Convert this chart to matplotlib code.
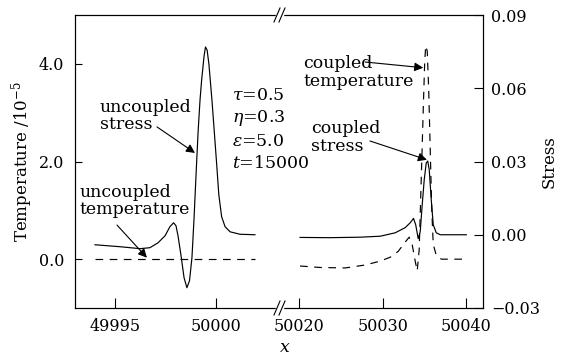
import matplotlib
matplotlib.use('Agg')
import matplotlib.pyplot as plt
from matplotlib.lines import Line2D

plt.rcParams['font.family'] = ['DejaVu Serif']
plt.rcParams['mathtext.fontset'] = 'dejavuserif'
plt.rcParams['font.size'] = 11.5

# Step 1: data
# left part of the broken x axis (uncoupled case)
x_uncoupled = [49993.99, 49995.23, 49996.22, 49996.71, 49997.11, 49997.46, 49997.70,
               49997.88, 49998.00, 49998.10, 49998.25, 49998.40, 49998.54, 49998.67,
               49998.79, 49998.89, 49999.02, 49999.10, 49999.19, 49999.27, 49999.39,
               49999.46, 49999.54, 49999.63, 49999.78, 50000.01, 50000.12, 50000.26,
               50000.43, 50000.68, 50001.17, 50001.91]
stress_uncoupled = [-0.0041, -0.0049, -0.0057, -0.0053, -0.0033, -0.0004, 0.0033,
                    0.0049, 0.0037, -0.0004, -0.0086, -0.0176, -0.0217, -0.0188,
                    -0.0094, 0.0061, 0.0294, 0.0429, 0.0552, 0.0634, 0.0732,
                    0.0769, 0.0757, 0.0699, 0.0552, 0.0294, 0.0164, 0.0074,
                    0.0033, 0.0012, 0.0002, 0.0]
x_temp_uncoupled = [49993.99, 50001.91]
temp_uncoupled = [0.0, 0.0]

# right part of the broken x axis (coupled case)
x_stress_coupled = [50020.12, 50023.71, 50027.31, 50029.70, 50031.50, 50032.69, 50033.29,
                    50033.69, 50033.95, 50034.25, 50034.49, 50034.73, 50034.97, 50035.21,
                    50035.39, 50035.57, 50035.81, 50036.05, 50036.41, 50036.89, 50040.0]
stress_coupled = [-0.0011, -0.0012, -0.0010, -0.0006, 0.0008, 0.0029, 0.0049,
                  0.0067, 0.0041, -0.0016, 0.0012, 0.0123, 0.0225, 0.0294,
                  0.0302, 0.0266, 0.0143, 0.0041, 0.0008, 0.0, 0.0]
x_temp_coupled = [50020.12, 50022.51, 50025.51, 50027.90, 50029.70, 50030.90, 50031.86,
                  50032.69, 50033.17, 50033.53, 50033.89, 50034.13, 50034.37, 50034.61,
                  50034.85, 50035.03, 50035.15, 50035.33, 50035.51, 50035.69, 50035.87,
                  50036.05, 50036.41, 50037.01, 50040.0]
temp_coupled = [-0.14, -0.17, -0.18, -0.12, -0.04, 0.04, 0.16,
                0.35, 0.45, 0.30, -0.04, -0.24, 0.20, 1.62,
                3.05, 4.06, 4.37, 4.26, 3.45, 2.23, 1.02,
                0.30, 0.08, 0.0, 0.0]

left_xticks = [49995, 50000]
right_xticks = [50020, 50030, 50040]
temp_ticks = [0.0, 2.0, 4.0]
temp_ticklabels = ['0.0', '2.0', '4.0']
stress_ticks = [-0.03, 0.0, 0.03, 0.06, 0.09]
stress_ticklabels = ['\u22120.03', '0.00', '0.03', '0.06', '0.09']
params = [r'$\tau$=0.5', r'$\eta$=0.3', r'$\varepsilon$=5.0', r'$t$=15000']

# Step 2: figure with two panels side by side (broken x axis)
W, H = 570, 356
fig = plt.figure(figsize=(5.7, 3.56), dpi=100)
x0, xb, x1 = 75, 279, 483
y_top, y_bot = 15, 308
axw = (xb - x0) / W
axh = (y_bot - y_top) / H
ax1 = fig.add_axes([x0 / W, 1 - y_bot / H, axw, axh])
ax2 = fig.add_axes([xb / W, 1 - y_bot / H, (x1 - xb) / W, axh])
ax2.patch.set_visible(False)
ax1s = ax1.twinx()
ax2s = ax2.twinx()

lw = 0.85
dash = (0, (6.5, 5.5))

ax1.plot(x_temp_uncoupled, temp_uncoupled, color='black', lw=lw, linestyle=dash)
ax1s.plot(x_uncoupled, stress_uncoupled, color='black', lw=lw)
ax2.plot(x_temp_coupled, temp_coupled, color='black', lw=lw, linestyle=dash)
ax2s.plot(x_stress_coupled, stress_coupled, color='black', lw=lw)

ax1.set_xlim(49993.0, 50003.1)
ax2.set_xlim(50017.6, 50042.0)
for a in (ax1, ax2):
    a.set_ylim(-1.0, 5.0)
for a in (ax1s, ax2s):
    a.set_ylim(-0.03, 0.09)

# Step 3: ticks and spines
ax1.set_xticks(left_xticks)
ax1.set_xticklabels([str(v) for v in left_xticks])
ax2.set_xticks(right_xticks)
ax2.set_xticklabels([str(v) for v in right_xticks])
for a in (ax1, ax2):
    a.tick_params(axis='x', direction='in', length=7, width=0.8, pad=7, top=False)
ax1.set_yticks(temp_ticks)
ax1.set_yticklabels(temp_ticklabels)
ax1.tick_params(axis='y', direction='in', length=5, width=0.8, pad=8, right=False)
ax2.tick_params(axis='y', left=False, right=False, labelleft=False)
ax1s.tick_params(axis='y', right=False, labelright=False)
ax2s.set_yticks(stress_ticks)
ax2s.set_yticklabels(stress_ticklabels)
ax2s.tick_params(axis='y', direction='in', length=6.5, width=0.8, pad=6)

for a in (ax1, ax1s):
    a.spines['right'].set_visible(False)
for a in (ax2, ax2s):
    a.spines['left'].set_visible(False)
for a in (ax1, ax2, ax1s, ax2s):
    for s in a.spines.values():
        s.set_linewidth(0.8)

ax1.set_ylabel('Temperature /10$^{-5}$', labelpad=2.5, fontsize=12)
ax2s.set_ylabel('Stress', labelpad=0, fontsize=12)
fig.text(285 / W, 1 - 347 / H, 'x', style='italic', ha='center', va='center', fontsize=12.5)

# Step 4: break marks on the top and bottom spines
for yb in (y_top, y_bot):
    fy = 1 - yb / H
    fig.add_artist(Line2D([277 / W, 282 / W], [fy, fy], color='white', lw=2.5,
                          transform=fig.transFigure, zorder=10))
    for xc in (277, 282):
        fig.add_artist(Line2D([(xc - 3) / W, (xc + 3) / W], [1 - (yb + 7) / H, 1 - (yb - 7) / H],
                              color='black', lw=0.8, transform=fig.transFigure, zorder=11))

# Step 5: labels and arrows
arrow = dict(arrowstyle='-|>', color='black', lw=0.8, mutation_scale=13, shrinkA=0, shrinkB=0)
fs = 12.5

ax1.text(0.1225, 0.655, 'uncoupled\nstress', transform=ax1.transAxes,
         ha='left', va='center', linespacing=1.05, fontsize=fs)
ax1s.annotate('', xy=(49998.94, 0.0335), xycoords='data',
              xytext=(0.402, 0.618), textcoords='axes fraction', arrowprops=arrow)

ax1.text(0.0245, 0.365, 'uncoupled\ntemperature', transform=ax1.transAxes,
         ha='left', va='center', linespacing=1.05, fontsize=fs)
ax1.annotate('', xy=(49996.56, 0.03), xycoords='data',
             xytext=(0.206, 0.283), textcoords='axes fraction', arrowprops=arrow)

for i, p in enumerate(params):
    yp = 95 + i * 23
    ax1.text((232 - x0) / (xb - x0), (y_bot - yp) / (y_bot - y_top), p,
             transform=ax1.transAxes, ha='left', va='center', fontsize=fs)

ax2.text(0.118, 0.804, 'coupled\ntemperature', transform=ax2.transAxes,
         ha='left', va='center', linespacing=1.05, fontsize=fs)
ax2.annotate('', xy=(50034.85, 3.92), xycoords='data',
             xytext=(0.4216, 0.8396), textcoords='axes fraction', arrowprops=arrow)

ax2.text(0.157, 0.582, 'coupled\nstress', transform=ax2.transAxes,
         ha='left', va='center', linespacing=1.05, fontsize=fs)
ax2s.annotate('', xy=(50035.29, 0.0307), xycoords='data',
              xytext=(0.446, 0.570), textcoords='axes fraction', arrowprops=arrow)

fig.savefig('out.png', dpi=100)
